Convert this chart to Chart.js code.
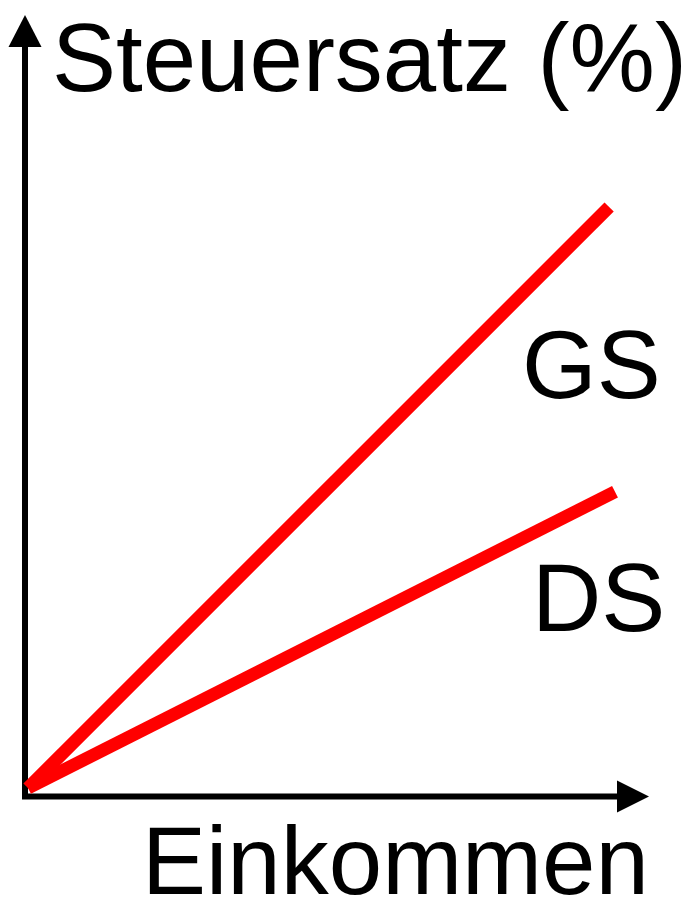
<!DOCTYPE html>
<html>
<head>
<meta charset="utf-8">
<script src="https://cdn.jsdelivr.net/npm/chart.js@4/dist/chart.umd.min.js"></script>
<style>
  html, body { margin: 0; padding: 0; background: #fff; }
  #wrap { width: 685px; height: 906px; position: relative; }
</style>
</head>
<body>
<div id="wrap"><canvas id="myChart" width="685" height="906"></canvas></div>
<script>
// income (x) and tax rate (y), relative units
var gsX = [0, 99];
var gsY = [0, 100];
var dsX = [0, 100];
var dsY = [0, 51];
var lineLabels = ["GS", "DS"];
var yTitle = "Steuersatz (%)";
var xTitle = "Einkommen";

function toPoints(xs, ys) {
  return xs.map(function (x, i) { return { x: x, y: ys[i] }; });
}

var FONT = "96px 'Liberation Sans', Arial, sans-serif";

// black axes with arrow heads, drawn under the lines
var axesPlugin = {
  id: "axes",
  beforeDatasetsDraw: function (chart) {
    var ctx = chart.ctx;
    var ox = chart.scales.x.getPixelForValue(0);
    var oy = chart.scales.y.getPixelForValue(0);
    var ax = ox - 3;     // vertical axis centre
    var ay = oy + 8.5;   // horizontal axis centre
    ctx.save();
    ctx.strokeStyle = "#000";
    ctx.fillStyle = "#000";
    ctx.lineWidth = 6;
    ctx.beginPath();
    ctx.moveTo(ax, ay + 3);
    ctx.lineTo(ax, 46);
    ctx.moveTo(ax - 3, ay);
    ctx.lineTo(618, ay);
    ctx.stroke();
    // up arrow
    ctx.beginPath();
    ctx.moveTo(ax - 16.5, 47);
    ctx.lineTo(ax + 16.5, 47);
    ctx.lineTo(ax, 15);
    ctx.closePath();
    ctx.fill();
    // right arrow
    ctx.beginPath();
    ctx.moveTo(617, ay - 16);
    ctx.lineTo(617, ay + 16);
    ctx.lineTo(649, ay);
    ctx.closePath();
    ctx.fill();
    ctx.restore();
  }
};

var textPlugin = {
  id: "texts",
  afterDraw: function (chart) {
    var ctx = chart.ctx;
    ctx.save();
    ctx.fillStyle = "#000";
    ctx.font = FONT;
    ctx.textBaseline = "alphabetic";
    ctx.textAlign = "left";
    ctx.fillText(yTitle, 52, 91);
    ctx.fillText(xTitle, 142, 894);
    ctx.fillText(lineLabels[0], 522, 398);
    ctx.fillText(lineLabels[1], 532, 631);
    ctx.restore();
  }
};

new Chart("myChart", {
  type: "line",
  data: {
    datasets: [{
      label: lineLabels[0],
      data: toPoints(gsX, gsY),
      borderColor: "#ff0000",
      borderWidth: 13,
      borderCapStyle: "butt",
      pointRadius: 0,
      tension: 0,
      clip: false
    }, {
      label: lineLabels[1],
      data: toPoints(dsX, dsY),
      borderColor: "#ff0000",
      borderWidth: 13,
      borderCapStyle: "butt",
      pointRadius: 0,
      tension: 0,
      clip: false
    }]
  },
  options: {
    responsive: false,
    animation: false,
    layout: { padding: { left: 28, top: 207, right: 70, bottom: 118 } },
    plugins: {
      legend: { display: false },
      tooltip: { enabled: false }
    },
    scales: {
      x: { type: "linear", min: 0, max: 100, display: false },
      y: { type: "linear", min: 0, max: 100, display: false }
    }
  },
  plugins: [axesPlugin, textPlugin]
});
</script>
</body>
</html>
